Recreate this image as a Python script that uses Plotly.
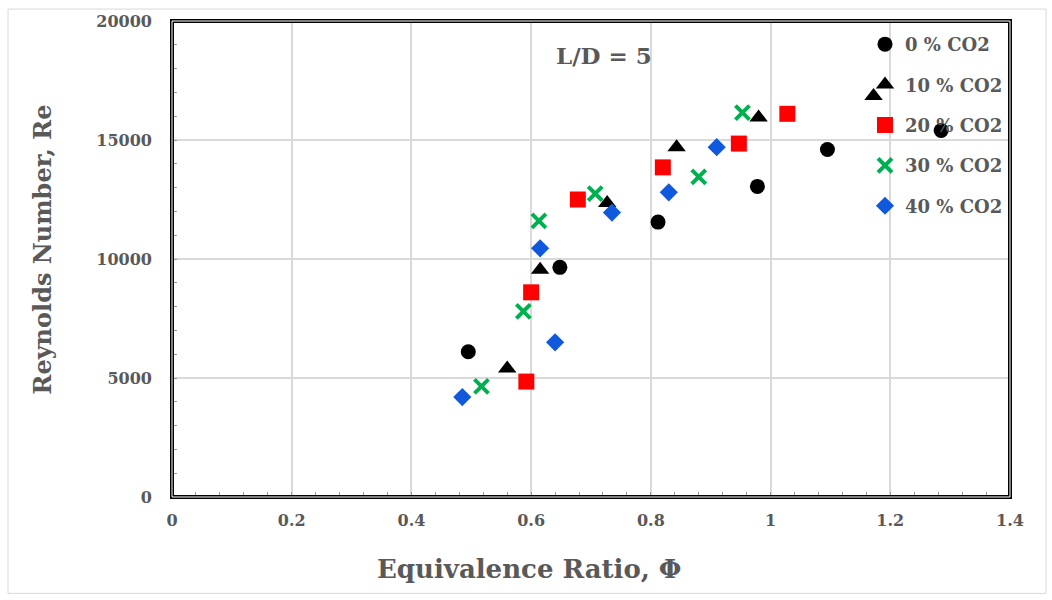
import plotly.graph_objects as go

# ---- data ----
phi_0 = [0.495, 0.648, 0.812, 0.978, 1.095, 1.285]
re_0 = [6100, 9650, 11550, 13050, 14600, 15400]

phi_10 = [0.560, 0.615, 0.727, 0.843, 0.980, 1.172]
re_10 = [5400, 9550, 12350, 14700, 15950, 16850]

phi_20 = [0.592, 0.600, 0.678, 0.820, 0.947, 1.028]
re_20 = [4850, 8600, 12500, 13850, 14850, 16100]

phi_30 = [0.517, 0.587, 0.613, 0.707, 0.880, 0.953]
re_30 = [4650, 7800, 11600, 12750, 13450, 16150]

phi_40 = [0.485, 0.640, 0.615, 0.735, 0.830, 0.910]
re_40 = [4200, 6500, 10450, 11950, 12800, 14700]

series_names = ["0 % CO2", "10 % CO2", "20 % CO2", "30 % CO2", "40 % CO2"]
x_ticks = [0, 0.2, 0.4, 0.6, 0.8, 1, 1.2, 1.4]
x_tick_labels = ["0", "0.2", "0.4", "0.6", "0.8", "1", "1.2", "1.4"]
y_ticks = [0, 5000, 10000, 15000, 20000]
y_tick_labels = ["0", "5000", "10000", "15000", "20000"]
x_title = "Equivalence Ratio, Φ"
y_title = "Reynolds Number, Re"
note = "L/D = 5"

FONT = "DejaVu Serif"
GRAY = "#595959"

styles = [
    dict(symbol="circle", color="#000000", size=15),
    dict(symbol="triangle-up", color="#000000", size=16),
    dict(symbol="square", color="#FF0000", size=16),
    dict(symbol="x-thin-open", color="#00B050", size=14),
    dict(symbol="diamond", color="#1159DC", size=14),
]
data = [(phi_0, re_0), (phi_10, re_10), (phi_20, re_20), (phi_30, re_30), (phi_40, re_40)]

fig = go.Figure()
for name, (xs, ys), st in zip(series_names, data, styles):
    marker = dict(symbol=st["symbol"], color=st["color"], size=st["size"])
    if st["symbol"] == "x-thin-open":
        marker["line"] = dict(color=st["color"], width=4)
    fig.add_trace(go.Scatter(x=xs, y=ys, mode="markers", name=name,
                             legendgroup=name, marker=marker))

axis_common = dict(
    showgrid=True, gridcolor="#d9d9d9", gridwidth=1.5,
    zeroline=False, showline=False,
    ticks="inside", ticklen=5, tickcolor="#999999",
    tickfont=dict(family=FONT, size=16, color=GRAY, weight="bold"),
)

fig.update_xaxes(
    range=[0, 1.4], tickvals=x_ticks, ticktext=x_tick_labels,
    minor=dict(dtick=0.04, ticks="inside", ticklen=5, tickcolor="#999999", showgrid=False),
    ticklabelstandoff=12,
    **axis_common,
)
fig.update_yaxes(
    range=[0, 20000], tickvals=y_ticks, ticktext=y_tick_labels,
    minor=dict(dtick=1000, ticks="inside", ticklen=5, tickcolor="#999999", showgrid=False),
    ticklabelstandoff=19,
    **axis_common,
)

# axis titles (placed as in the reference: x title offset left of plot centre)
fig.add_annotation(x=(529 - 172) / 838, y=(497 - 569) / 479, xref="paper", yref="paper",
                   text=x_title, showarrow=False, xanchor="center", yanchor="middle",
                   font=dict(family=FONT, size=26, color=GRAY, weight="bold"))
fig.add_annotation(x=(43 - 172) / 838, y=(497 - 248) / 479, xref="paper", yref="paper",
                   text=y_title, showarrow=False, textangle=-90,
                   xanchor="center", yanchor="middle",
                   font=dict(family=FONT, size=24, color=GRAY, weight="bold"))

fig.add_annotation(x=0.722, y=18550, xref="x", yref="y", text=note,
                   showarrow=False,
                   font=dict(family=FONT, size=23, color=GRAY, weight="bold"))

# plot area double border
fig.add_shape(type="rect", xref="paper", yref="paper", x0=0, y0=0, x1=1, y1=1,
              line=dict(color="black", width=4), layer="above")
fig.add_shape(type="rect", xref="paper", yref="paper", x0=0, y0=0, x1=1, y1=1,
              line=dict(color="white", width=1), layer="above")
# chart area border
fig.add_shape(type="rect", xref="paper", yref="paper",
              x0=(8 - 172) / 838, x1=(1046 - 172) / 838,
              y0=(497 - 594) / 479, y1=(497 - 6) / 479,
              line=dict(color="#d9d9d9", width=1), layer="below")

fig.update_layout(
    width=1052, height=600,
    margin=dict(l=172, r=42, t=18, b=103),
    paper_bgcolor="white", plot_bgcolor="white",
    showlegend=True,
    legend=dict(x=(865 - 172) / 838, y=(497 - 23) / 479, xanchor="left", yanchor="top",
                bgcolor="rgba(0,0,0,0)", borderwidth=0,
                traceorder="grouped", tracegroupgap=14,
                itemwidth=30,
                font=dict(family=FONT, size=18, color=GRAY, weight="bold")),
)

fig.write_html("out.html")
